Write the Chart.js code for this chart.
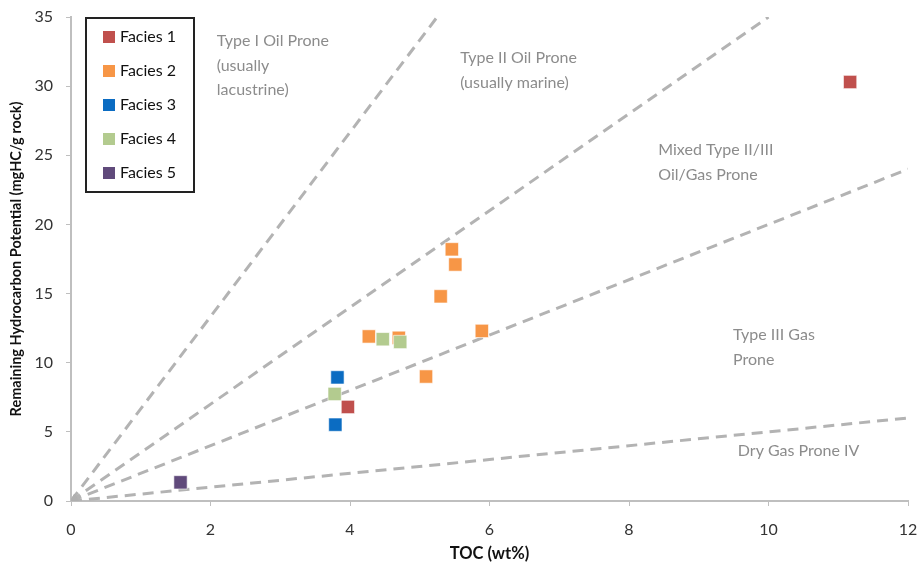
<!DOCTYPE html>
<html><head><meta charset="utf-8">
<script src="https://cdn.jsdelivr.net/npm/chart.js@4"></script>
<style>html,body{margin:0;padding:0;background:#fff}#wrap{width:919px;height:562px}</style>
</head><body><div id="wrap"><canvas id="c"></canvas></div>
<script>
const seriesNames = ["Facies 1","Facies 2","Facies 3","Facies 4","Facies 5"];
const seriesColors = ["#c0504d","#f79646","#0b6cc2","#b3cb8f","#604a7b"];
const facies1 = [{x:11.17,y:30.3},{x:3.97,y:6.8}];
const facies2 = [{x:5.46,y:18.2},{x:5.51,y:17.1},{x:5.30,y:14.8},{x:4.27,y:11.9},{x:4.70,y:11.8},{x:5.89,y:12.3},{x:5.09,y:9.0}];
const facies3 = [{x:3.82,y:8.94},{x:3.79,y:5.52}];
const facies4 = [{x:4.47,y:11.7},{x:4.72,y:11.5},{x:3.78,y:7.74}];
const facies5 = [{x:1.57,y:1.35}];
const seriesData = [facies1,facies2,facies3,facies4,facies5];
const typeILine = [{x:0,y:0},{x:5.25,y:35}];
const typeIILine = [{x:0,y:0},{x:10,y:35}];
const mixedLine = [{x:0,y:0},{x:12,y:24}];
const dryGasLine = [{x:0,y:0},{x:12,y:6}];
const originMarker = [{x:0.05,y:0.15}];
const xTicks = [0,2,4,6,8,10,12];
const yTicks = [0,5,10,15,20,25,30,35];
const zoneLabels = [
  {x:2.09,y:33.26,lines:["Type I Oil Prone","(usually","lacustrine)"]},
  {x:5.58,y:32.03,lines:["Type II Oil Prone","(usually marine)"]},
  {x:8.42,y:25.38,lines:["Mixed Type II/III","Oil/Gas Prone"]},
  {x:9.49,y:12.0,lines:["Type III Gas","Prone"]},
  {x:9.56,y:3.62,lines:["Dry Gas Prone IV"]}
];
const FONT = "Lato, 'Liberation Sans', sans-serif";

const datasets = [];
seriesNames.forEach((n,i)=>{
  datasets.push({label:n,type:'scatter',data:seriesData[i],backgroundColor:seriesColors[i],
    borderColor:'rgba(255,255,255,0.6)',borderWidth:1,pointStyle:'rect',pointRadius:9.4,pointHoverRadius:9.4,order:5-i});
});
[typeILine,typeIILine,mixedLine,dryGasLine].forEach(d=>{
  datasets.push({label:'',type:'line',data:d,borderColor:'#b3b3b3',borderWidth:3,borderDash:[11,7],pointRadius:0,fill:false,order:10});
});
datasets.push({label:'',type:'scatter',data:originMarker,backgroundColor:'#b0b0b0',borderColor:'#b0b0b0',pointStyle:'triangle',pointRadius:5,order:9});

const overlay = {
  id:'overlay',
  afterDraw(chart){
    const ctx=chart.ctx, xs=chart.scales.x, ys=chart.scales.y;
    ctx.save();
    ctx.font="16px "+FONT; ctx.fillStyle="#8c8c8c"; ctx.textBaseline="middle"; ctx.textAlign="left";
    zoneLabels.forEach(z=>{
      const px=xs.getPixelForValue(z.x), py=ys.getPixelForValue(z.y);
      z.lines.forEach((t,k)=>ctx.fillText(t,px,py+k*24.5));
    });
    ctx.strokeStyle="#222"; ctx.lineWidth=2;
    ctx.strokeRect(86,18,108,174);
    ctx.font="16px "+FONT;
    seriesNames.forEach((n,i)=>{
      const cy=37+i*34;
      ctx.fillStyle=seriesColors[i]; ctx.fillRect(103,cy-6,12,12);
      ctx.fillStyle="#111"; ctx.fillText(n,120,cy);
    });
    ctx.restore();
  }
};

new Chart(document.getElementById('c'),{
  data:{datasets},
  options:{
    responsive:true,maintainAspectRatio:false,animation:false,
    layout:{padding:{top:17,right:11,left:0,bottom:0}},
    plugins:{legend:{display:false},tooltip:{enabled:false}},
    scales:{
      x:{type:'linear',min:0,max:12,
        afterBuildTicks:s=>{s.ticks=xTicks.map(v=>({value:v}));},
        afterFit:s=>{s.height=61;s.paddingRight=0;s.paddingLeft=0;},
        grid:{drawOnChartArea:false,color:'#bfbfbf',tickLength:5},
        border:{color:'#bfbfbf',width:2},
        ticks:{font:{size:16,family:FONT},color:'#333',padding:14},
        title:{display:true,text:'TOC (wt%)',font:{size:16.5,weight:'bold',family:FONT,lineHeight:1},color:'#111',padding:{top:0,bottom:0}}},
      y:{type:'linear',min:0,max:35,
        afterBuildTicks:s=>{s.ticks=yTicks.map(v=>({value:v}));},
        afterFit:s=>{s.width=71;s.paddingTop=0;s.paddingBottom=0;},
        grid:{drawOnChartArea:false,color:'#bfbfbf',tickLength:5},
        border:{color:'#bfbfbf',width:2},
        ticks:{font:{size:16,family:FONT},color:'#333',padding:13},
        title:{display:true,text:'Remaining Hydrocarbon Potential (mgHC/g rock)',font:{size:14.5,weight:'bold',family:FONT},color:'#111',padding:{top:8,bottom:0}}}
    }
  },
  plugins:[overlay]
});
</script></body></html>
